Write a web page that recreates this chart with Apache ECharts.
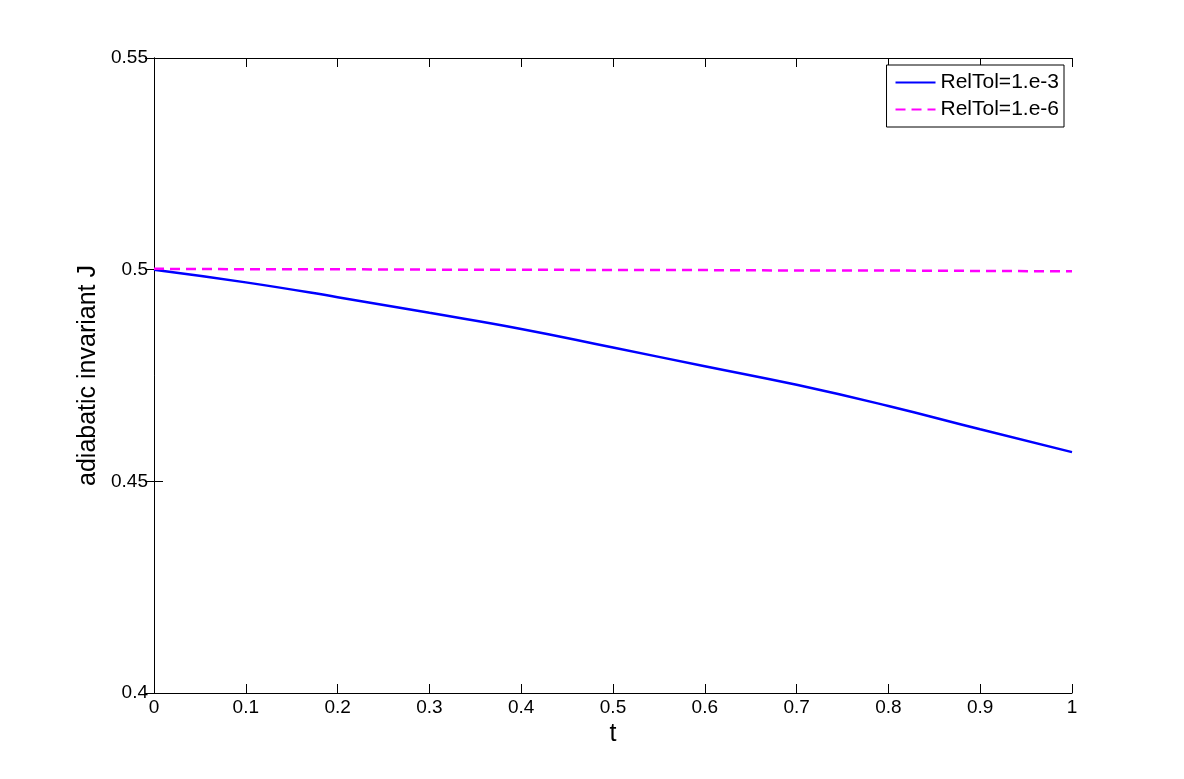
<!DOCTYPE html>
<html>
<head>
<meta charset="utf-8">
<script src="https://cdn.jsdelivr.net/npm/echarts@6/dist/echarts.min.js"></script>
<style>
  html, body { margin: 0; padding: 0; background: #fff; }
  #chart { width: 1184px; height: 779px; }
</style>
</head>
<body>
<div id="chart"></div>
<script>
// data
var tValues = [0, 0.1, 0.2, 0.3, 0.4, 0.5, 0.6, 0.7, 0.8, 0.9, 1.0];
var jTol3 = [0.5000, 0.4970, 0.4935, 0.4898, 0.4860, 0.4816, 0.4772, 0.4728, 0.4678, 0.4623, 0.4569];
var jTol6 = [0.5002, 0.5001, 0.5001, 0.5000, 0.5000, 0.4999, 0.4999, 0.4998, 0.4998, 0.4997, 0.4996];
var seriesNames = ['RelTol=1.e-3', 'RelTol=1.e-6'];

function pairs(xs, ys) {
    var out = [];
    for (var i = 0; i < xs.length; i++) out.push([xs[i], ys[i]]);
    return out;
}

var myChart = echarts.init(document.getElementById('chart'));
var font = 'Liberation Sans, Arial, sans-serif';

// box axes on top / right: ticks only
var mirror = {
    axisLine: { show: true, lineStyle: { color: '#000', width: 1 } },
    axisTick: { show: true, inside: true, length: 9, lineStyle: { color: '#000' } },
    axisLabel: { show: false },
    splitLine: { show: false }
};

option = {
    backgroundColor: '#fff',
    animation: false,
    grid: { left: 154, right: 112, top: 58, bottom: 86 },
    legend: {
        right: 120,
        top: 65,
        orient: 'vertical',
        backgroundColor: '#fff',
        borderColor: '#000',
        borderWidth: 1,
        borderRadius: 0,
        padding: [7, 5, 7, 8],
        itemWidth: 40,
        itemHeight: 20,
        itemGap: 6,
        itemStyle: { opacity: 0 },
        textStyle: { fontFamily: font, fontSize: 21, color: '#000' },
        data: seriesNames
    },
    xAxis: [
        {
            type: 'value', min: 0, max: 1, interval: 0.1,
            name: 't', nameLocation: 'middle', nameGap: 25,
            nameTextStyle: { fontFamily: font, fontSize: 25, color: '#000' },
            axisLine: { show: true, onZero: false, lineStyle: { color: '#000', width: 1 } },
            axisTick: { show: true, inside: true, length: 9, lineStyle: { color: '#000' } },
            axisLabel: { fontFamily: font, fontSize: 19, color: '#000', margin: 5 },
            splitLine: { show: false }
        },
        Object.assign({ type: 'value', min: 0, max: 1, interval: 0.1, position: 'top' }, mirror)
    ],
    yAxis: [
        {
            type: 'value', min: 0.4, max: 0.55, interval: 0.05,
            name: 'adiabatic invariant J', nameLocation: 'middle', nameGap: 51,
            nameTextStyle: { fontFamily: font, fontSize: 25, color: '#000' },
            axisLine: { show: true, onZero: false, lineStyle: { color: '#000', width: 1 } },
            axisTick: { show: true, inside: true, length: 9, lineStyle: { color: '#000' } },
            axisLabel: { fontFamily: font, fontSize: 19, color: '#000', margin: 6 },
            splitLine: { show: false }
        },
        Object.assign({ type: 'value', min: 0.4, max: 0.55, interval: 0.05, position: 'right' }, mirror)
    ],
    series: [
        {
            name: seriesNames[0],
            type: 'line',
            symbol: 'none',
            smooth: true,
            lineStyle: { color: '#0000ff', width: 2.5 },
            itemStyle: { color: '#0000ff' },
            data: pairs(tValues, jTol3)
        },
        {
            name: seriesNames[1],
            type: 'line',
            symbol: 'none',
            lineStyle: { color: '#ff00ff', width: 2.5, type: [10, 6] },
            itemStyle: { color: '#ff00ff' },
            data: pairs(tValues, jTol6)
        }
    ]
};
myChart.setOption(option);
</script>
</body>
</html>
